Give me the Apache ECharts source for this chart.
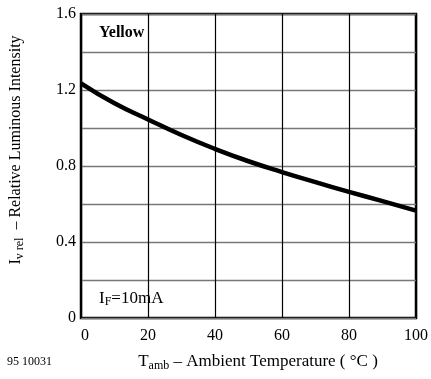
<!DOCTYPE html>
<html>
<head>
<meta charset="utf-8">
<script src="https://cdn.jsdelivr.net/npm/echarts@6/dist/echarts.min.js"></script>
<style>
  html, body { margin: 0; padding: 0; background: #fff; }
  #chart { width: 431px; height: 379px; }
</style>
</head>
<body>
<div id="chart"></div>
<script>
// Ambient temperature (°C) and relative luminous intensity, yellow LED at IF = 10 mA
const temperature = [0, 10, 20, 30, 40, 50, 60, 70, 80, 90, 100];
const relIntensity = [1.235, 1.13, 1.045, 0.963, 0.89, 0.825, 0.768, 0.715, 0.664, 0.615, 0.565];
const xTicks = [0, 20, 40, 60, 80, 100];
const yLabelled = [0, 0.4, 0.8, 1.2, 1.6];

const serif = '"Liberation Serif", "DejaVu Serif", serif';

const chart = echarts.init(document.getElementById('chart'), null, { renderer: 'canvas' });

// rich-text styles for a main run and a subscript run
function richSub(size, subSize) {
  return {
    t: { fontFamily: serif, fontSize: size, fill: '#000' },
    s: { fontFamily: serif, fontSize: subSize, fill: '#000', padding: [7, 0, 0, 0] }
  };
}

chart.setOption({
  animation: false,
  backgroundColor: '#fff',
  grid: {
    left: 81, top: 14, right: 13, bottom: 61,
    show: true, borderColor: '#000', borderWidth: 2.5, backgroundColor: 'transparent'
  },
  xAxis: {
    type: 'value',
    min: xTicks[0], max: xTicks[xTicks.length - 1], interval: 20,
    axisLine: { show: false },
    axisTick: { show: false },
    axisLabel: {
      color: '#000', fontFamily: serif, fontSize: 16, margin: 10,
      formatter: v => (v === 0 ? '  0' : String(v))
    },
    splitLine: { show: true, lineStyle: { color: '#000', width: 1.2 } }
  },
  yAxis: {
    type: 'value',
    min: 0, max: 1.6, interval: 0.2,
    axisLine: { show: false },
    axisTick: { show: false },
    axisLabel: {
      color: '#000', fontFamily: serif, fontSize: 16, margin: 5,
      formatter: v => {
        const hit = yLabelled.some(t => Math.abs(t - v) < 1e-6);
        if (!hit) return '';
        return v === 0 ? '0' : v.toFixed(1);
      }
    },
    splitLine: { show: true, lineStyle: { color: '#777', width: 1.3 } }
  },
  graphic: [
    {
      type: 'text', left: 99, top: 25,
      style: { text: 'Yellow', font: 'bold 16px ' + serif, fill: '#000' }
    },
    {
      type: 'text', left: 99, top: 290,
      style: { text: '{t|I}{s|F}{t|=10mA}', rich: richSub(17, 12) }
    },
    {
      type: 'text', left: 7, top: 356,
      style: { text: '95 10031', font: '12px ' + serif, fill: '#000' }
    },
    {
      type: 'text', x: 258, y: 362,
      style: {
        text: '{t|T}{s|amb}{t| – Ambient Temperature ( °C )}',
        rich: richSub(17, 12),
        align: 'center', verticalAlign: 'middle'
      }
    },
    {
      type: 'text', x: 16, y: 150, rotation: Math.PI / 2,
      style: {
        text: '{t|I}{s|v rel}{t|  – Relative Luminous Intensity}',
        rich: richSub(16, 12),
        align: 'center', verticalAlign: 'middle'
      }
    }
  ],
  series: [{
    type: 'line',
    data: temperature.map((t, i) => [t, relIntensity[i]]),
    smooth: true,
    showSymbol: false,
    lineStyle: { color: '#000', width: 4.5 }
  }]
});
</script>
</body>
</html>
